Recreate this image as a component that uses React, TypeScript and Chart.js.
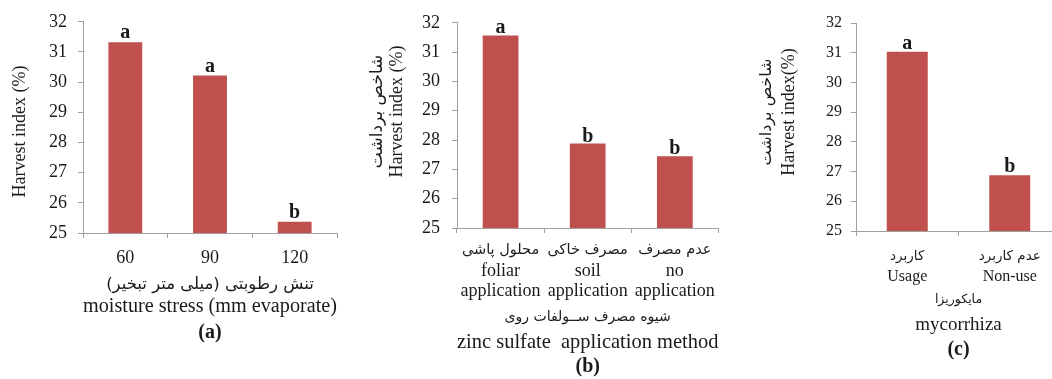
import React, { useEffect, useRef } from 'react';
import { Chart, registerables } from 'chart.js';

Chart.register(...registerables);

// ---------- data ----------
const yMin = 25;
const yMax = 32;
const yStep = 1;

const catsA = [['60'], ['90'], ['120']];
const persCatsA: string[] = [];
const valuesA = [31.32, 30.22, 25.37];
const lettersA = ['a', 'a', 'b'];
const persTitleA = 'تنش رطوبتی (میلی متر تبخیر)';
const xTitleA = 'moisture stress (mm evaporate)';
const yTitleA = ['Harvest index (%)'];
const panelA = '(a)';

const catsB = [
  ['foliar', 'application'],
  ['soil', 'application'],
  ['no', 'application'],
];
const persCatsB = ['محلول پاشی', 'مصرف خاکی', 'عدم مصرف'];
const valuesB = [31.57, 27.88, 27.45];
const lettersB = ['a', 'b', 'b'];
const persTitleB = 'شیوه مصرف ســولفات روی';
const xTitleB = 'zinc sulfate  application method';
const yTitleB = ['شاخص برداشت', 'Harvest index (%)'];
const panelB = '(b)';

const catsC = [['Usage'], ['Non-use']];
const persCatsC = ['کاربرد', 'عدم کاربرد'];
const valuesC = [31.03, 26.88];
const lettersC = ['a', 'b'];
const persTitleC = 'مایکوریزا';
const xTitleC = 'mycorrhiza';
const yTitleC = ['شاخص برداشت', 'Harvest index(%)'];
const panelC = '(c)';

// ---------- style ----------
const FAMILY = "'Liberation Serif', 'DejaVu Sans', serif";
const PERS = "'DejaVu Sans', sans-serif";
const BAR = '#C0504D';
const AXIS = '#A0A0A0';
const TEXT = '#1a1a1a';
const H = 379;
const isPersian = (s: string) => /[\u0600-\u06FF]/.test(s);

type PanelProps = {
  labels: string[][];
  persLabels: string[];
  values: number[];
  letters: string[];
  persTitle: string;
  xTitle: string;
  yTitle: string[];
  panel: string;
  left: number;
  width: number;
  area: { l: number; r: number; t: number; b: number };
  tickFont: number;
  tickLH: number;
  tickPad: number;
  persTickFont: number;
  yTickFont: number;
  yTickPad: number;
  xTitleFont: number;
  xTitleLH: number;
  persTitleFont: number;
  xHeight: number;
  yTitleFont: number;
  yPersFont: number;
  yTitleLH: number;
  yTitlePad: number;
  yTitleShift: number;
  panelPad: number;
  barPct: number;
  letterGap: number;
};

function Panel(p: PanelProps) {
  const ref = useRef<HTMLCanvasElement>(null);
  useEffect(() => {
    if (!ref.current) return;
    const hasPersTicks = p.persLabels.length > 0;
    const tickLabels = p.labels.map((l) => (hasPersTicks ? [''].concat(l) : l));
    const letterPlugin = {
      id: 'letters',
      afterDatasetsDraw(chart: any) {
        const ctx = chart.ctx;
        const meta = chart.getDatasetMeta(0);
        ctx.save();
        ctx.font = `bold 20px ${FAMILY}`;
        ctx.fillStyle = TEXT;
        ctx.textAlign = 'center';
        ctx.textBaseline = 'alphabetic';
        meta.data.forEach((el: any, i: number) => {
          ctx.fillText(p.letters[i], el.x, el.y - p.letterGap);
        });
        ctx.restore();
      },
    };
    const textPlugin = {
      id: 'persianAndTitles',
      afterDraw(chart: any) {
        const ctx = chart.ctx;
        const xs = chart.scales.x;
        const ys = chart.scales.y;
        ctx.save();
        ctx.fillStyle = TEXT;
        ctx.textAlign = 'center';
        ctx.textBaseline = 'middle';
        (ctx as any).direction = 'rtl';
        const tickLine = p.tickFont * p.tickLH;
        if (hasPersTicks) {
          ctx.font = `${p.persTickFont}px ${PERS}`;
          const y = xs.top + 5 + p.tickPad + tickLine / 2;
          p.persLabels.forEach((t, i) => {
            ctx.fillText(t, xs.getPixelForTick(i), y);
          });
        }
        const titleLine = p.xTitleFont * p.xTitleLH;
        ctx.font = `${p.persTitleFont}px ${PERS}`;
        ctx.fillText(p.persTitle, (xs.left + xs.right) / 2, xs.bottom - titleLine * 1.5);
        ctx.restore();

        // y-axis titles (rotated)
        const lh = p.yTitleFont * p.yTitleLH;
        const cy = (ys.top + ys.bottom) / 2 + p.yTitleShift;
        p.yTitle.forEach((t, i) => {
          const cx = ys.left + p.yTitlePad + lh / 2 + i * lh;
          ctx.save();
          ctx.translate(cx, cy);
          ctx.rotate(-Math.PI / 2);
          ctx.fillStyle = TEXT;
          ctx.textAlign = 'center';
          ctx.textBaseline = 'middle';
          if (isPersian(t)) {
            (ctx as any).direction = 'rtl';
            ctx.font = `${p.yPersFont}px ${PERS}`;
          } else {
            ctx.font = `${p.yTitleFont}px ${FAMILY}`;
          }
          ctx.fillText(t, 0, 0);
          ctx.restore();
        });
      },
    };
    const yWidth = p.area.l - p.left;
    const xH = p.xHeight;
    const titleH = 20 * 1.2 + p.panelPad;
    const bottomPad = H - p.area.b - xH - titleH;
    const chart = new Chart(ref.current, {
      type: 'bar',
      data: {
        labels: tickLabels,
        datasets: [
          {
            data: p.values,
            backgroundColor: BAR,
            borderWidth: 0,
            barPercentage: p.barPct,
            categoryPercentage: 1,
          },
        ],
      },
      options: {
        responsive: false,
        animation: false,
        layout: {
          padding: {
            left: 0,
            top: p.area.t,
            right: p.left + p.width - p.area.r,
            bottom: bottomPad,
          },
        },
        plugins: {
          legend: { display: false },
          tooltip: { enabled: false },
          title: {
            display: true,
            text: p.panel,
            position: 'bottom',
            fullSize: false,
            color: TEXT,
            font: { family: FAMILY, size: 20, weight: 'bold', lineHeight: 1.2 },
            padding: { top: p.panelPad, bottom: 0 },
          },
        },
        scales: {
          x: {
            grid: { drawOnChartArea: false, drawTicks: true, tickLength: 5, color: AXIS, offset: true },
            border: { color: AXIS, width: 1 },
            ticks: {
              color: TEXT,
              padding: p.tickPad,
              maxRotation: 0,
              autoSkip: false,
              font: { family: FAMILY, size: p.tickFont, lineHeight: p.tickLH },
            },
            title: {
              display: true,
              text: ['', p.xTitle],
              color: TEXT,
              font: { family: FAMILY, size: p.xTitleFont, lineHeight: p.xTitleLH },
              padding: { top: 0, bottom: 0 },
            },
            afterFit: (s: any) => {
              s.height = xH;
            },
          },
          y: {
            min: yMin,
            max: yMax,
            grid: { drawOnChartArea: false, drawTicks: true, tickLength: 5, color: AXIS },
            border: { color: AXIS, width: 1 },
            ticks: {
              stepSize: yStep,
              color: TEXT,
              padding: p.yTickPad,
              font: { family: FAMILY, size: p.yTickFont },
            },
            title: { display: false },
            afterFit: (s: any) => {
              s.width = yWidth;
            },
          },
        },
      } as any,
      plugins: [letterPlugin, textPlugin],
    });
    return () => chart.destroy();
  }, []);
  return (
    <canvas
      ref={ref}
      width={p.width}
      height={H}
      style={{ position: 'absolute', left: p.left, top: 0, width: p.width, height: H, display: 'block' }}
    />
  );
}

export default function App() {
  return (
    <div
      style={{
        position: 'absolute',
        left: 0,
        top: 0,
        width: 1052,
        height: H,
        overflow: 'hidden',
        background: '#ffffff',
      }}
    >
      <Panel
        labels={catsA}
        persLabels={persCatsA}
        values={valuesA}
        letters={lettersA}
        persTitle={persTitleA}
        xTitle={xTitleA}
        yTitle={yTitleA}
        panel={panelA}
        left={0}
        width={345}
        area={{ l: 83, r: 337, t: 17, b: 233 }}
        tickFont={18}
        tickLH={1.2}
        tickPad={9}
        persTickFont={15}
        yTickFont={18}
        yTickPad={11}
        xTitleFont={20.5}
        xTitleLH={1.08}
        persTitleFont={16.5}
        xHeight={85}
        yTitleFont={18}
        yPersFont={17}
        yTitleLH={1.2}
        yTitlePad={9}
        yTitleShift={4}
        panelPad={3}
        barPct={0.4}
        letterGap={4}
      />
      <Panel
        labels={catsB}
        persLabels={persCatsB}
        values={valuesB}
        letters={lettersB}
        persTitle={persTitleB}
        xTitle={xTitleB}
        yTitle={yTitleB}
        panel={panelB}
        left={345}
        width={377}
        area={{ l: 457, r: 721, t: 17, b: 228 }}
        tickFont={18}
        tickLH={1.15}
        tickPad={7}
        persTickFont={14.5}
        yTickFont={18}
        yTickPad={12}
        xTitleFont={21}
        xTitleLH={1.19}
        persTitleFont={14}
        xHeight={127}
        yTitleFont={18}
        yPersFont={17}
        yTitleLH={1.1}
        yTitlePad={23}
        yTitleShift={-14}
        panelPad={0}
        barPct={0.41}
        letterGap={2}
      />
      <Panel
        labels={catsC}
        persLabels={persCatsC}
        values={valuesC}
        letters={lettersC}
        persTitle={persTitleC}
        xTitle={xTitleC}
        yTitle={yTitleC}
        panel={panelC}
        left={722}
        width={340}
        area={{ l: 856, r: 1061, t: 23, b: 231 }}
        tickFont={16}
        tickLH={1.3}
        tickPad={10}
        persTickFont={13.5}
        yTickFont={16}
        yTickPad={9}
        xTitleFont={19}
        xTitleLH={1.3}
        persTitleFont={12.5}
        xHeight={106}
        yTitleFont={18}
        yPersFont={16}
        yTitleLH={1.22}
        yTitlePad={34}
        yTitleShift={-15}
        panelPad={1}
        barPct={0.4}
        letterGap={3}
      />
    </div>
  );
}
